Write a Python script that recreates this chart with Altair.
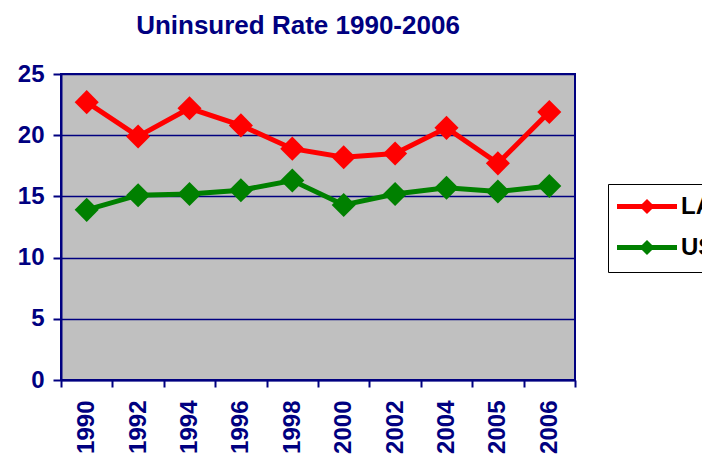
import altair as alt
import pandas as pd

years = ["1990", "1992", "1994", "1996", "1998", "2000", "2002", "2004", "2005", "2006"]
la = [22.7, 19.9, 22.2, 20.8, 18.9, 18.2, 18.5, 20.6, 17.7, 21.9]
us = [13.9, 15.1, 15.2, 15.5, 16.3, 14.3, 15.2, 15.7, 15.4, 15.85]
series = ["LA", "US"]
colors = ["#FF0000", "#008000"]

rows = []
for y, a, b in zip(years, la, us):
    rows.append({"year": y, "series": "LA", "value": a})
    rows.append({"year": y, "series": "US", "value": b})
df = pd.DataFrame(rows)

NAVY = "#000080"
FONT = "Liberation Sans"

x = alt.X("year:N", sort=years, title=None,
          scale=alt.Scale(paddingInner=0, paddingOuter=0),
          axis=alt.Axis(labelAngle=270, labelFont=FONT, labelFontSize=24,
                        labelFontWeight="bold", labelColor=NAVY,
                        domainColor=NAVY, domainWidth=2, tickColor=NAVY,
                        tickWidth=2, tickSize=7, tickBand="extent",
                        labelPadding=13, grid=False))
y = alt.Y("value:Q", title=None,
          scale=alt.Scale(domain=[0, 25], nice=False),
          axis=alt.Axis(values=[0, 5, 10, 15, 20, 25], labelFont=FONT,
                        labelFontSize=24, labelFontWeight="bold",
                        labelColor=NAVY, domainColor=NAVY, domainWidth=2,
                        tickColor=NAVY, tickWidth=2, tickSize=8,
                        labelPadding=9, grid=True, gridColor=NAVY,
                        gridWidth=1.5))
color = alt.Color("series:N", title=None,
                  scale=alt.Scale(domain=series, range=colors),
                  legend=alt.Legend(orient="none", legendX=547, legendY=110,
                                    symbolType="M-1.35,0L4.65,0M1.65,-0.4L2.05,0L1.65,0.4L1.25,0Z",
                                    symbolSize=400, symbolStrokeWidth=5,
                                    labelFont=FONT, labelFontSize=24,
                                    labelFontWeight="bold", labelColor="black",
                                    labelOffset=38, padding=10, rowPadding=12,
                                    strokeColor="black"))

base = alt.Chart(df).encode(x=x, y=y, color=color)
lines = base.mark_line(strokeWidth=5)
points = base.mark_point(shape="diamond", filled=True, size=580, opacity=1)

chart = alt.layer(lines, points).properties(
    width=514, height=306,
    title=alt.TitleParams("Uninsured Rate 1990-2006", font=FONT, fontSize=26,
                          fontWeight="bold", color=NAVY, anchor="middle",
                          dx=-20, offset=23),
    autosize=alt.AutoSizeParams(type="none"),
    padding={"left": 53, "top": 66, "right": 127, "bottom": 75},
    background="white",
).configure_view(fill="#C0C0C0", stroke=NAVY, strokeWidth=2)

chart.save("out.html", embed_options={"renderer": "svg", "actions": False})
